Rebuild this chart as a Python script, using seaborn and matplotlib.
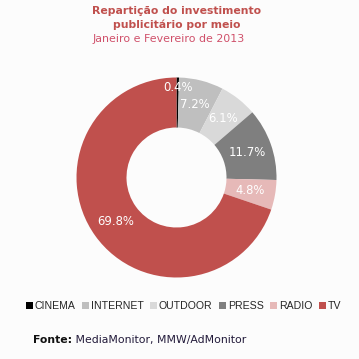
import matplotlib
matplotlib.use("Agg")
import matplotlib.pyplot as plt
import seaborn as sns
import numpy as np

categories = ["CINEMA", "INTERNET", "OUTDOOR", "PRESS", "RADIO", "TV"]
values = [0.4, 7.2, 6.1, 11.7, 4.8, 69.8]
colors = ["#000000", "#bfbfbf", "#d9d9d9", "#7f7f7f", "#e6b9b8", "#c0504d"]
title_lines = ["Repartição do investimento", "publicitário por meio"]
subtitle = "Janeiro e Fevereiro de 2013"
source_bold = "Fonte:"
source_rest = " MediaMonitor, MMW/AdMonitor"

sns.set_theme(style="white")
plt.rcParams["font.family"] = ["DejaVu Sans"]

bg = "#fcfcfc"
fig = plt.figure(figsize=(3.59, 3.59), dpi=100, facecolor=bg)
W = 359.0
cx, cy, R = 176.5, 177.5, 100.0
ax = fig.add_axes([(cx - R) / W, (W - cy - R) / W, 2 * R / W, 2 * R / W])
ax.set_facecolor(bg)

palette = sns.color_palette(colors)
wedges, texts, autotexts = ax.pie(
    values, colors=palette, startangle=90, counterclock=False,
    radius=1.0, wedgeprops=dict(width=0.5, edgecolor="none", linewidth=0),
    autopct=lambda p: f"{p:.1f}%", pctdistance=0.75,
    textprops=dict(color="white", fontsize=8.4),
)
# push the tiny first label outward like the original
x, y = autotexts[0].get_position()
r = np.hypot(x, y)
autotexts[0].set_position((x / r * 0.9, y / r * 0.9))
ax.set_xlim(-1, 1)
ax.set_ylim(-1, 1)
ax.set_aspect("equal")
ax.axis("off")

title_color = "#c0504d"
fig.text(177 / W, 1 - 11.5 / W, title_lines[0], ha="center", va="center",
         fontsize=7.8, fontweight="bold", color=title_color)
fig.text(177 / W, 1 - 24.5 / W, title_lines[1], ha="center", va="center",
         fontsize=7.8, fontweight="bold", color=title_color)
fig.text(168.5 / W, 1 - 39 / W, subtitle, ha="center", va="center",
         fontsize=7.9, color="#d0506a")

leg = fig.legend(wedges, categories, loc="center", bbox_to_anchor=(183.5 / W, 1 - 306 / W),
                 ncol=6, frameon=False, handlelength=0.65, handleheight=0.65,
                 handletextpad=0.15, columnspacing=0.65,
                 prop=dict(family="Liberation Sans", size=7.6), borderaxespad=0)

t1 = fig.text(33 / W, 1 - 340 / W, source_bold, ha="left", va="center",
              fontsize=7.8, fontweight="bold", color="#111111")
ax.annotate(source_rest, xy=(1, 0.5), xycoords=t1, ha="left", va="center",
            fontsize=7.8, color="#221a3a", annotation_clip=False)

fig.savefig("out.png", dpi=100, facecolor=bg)
